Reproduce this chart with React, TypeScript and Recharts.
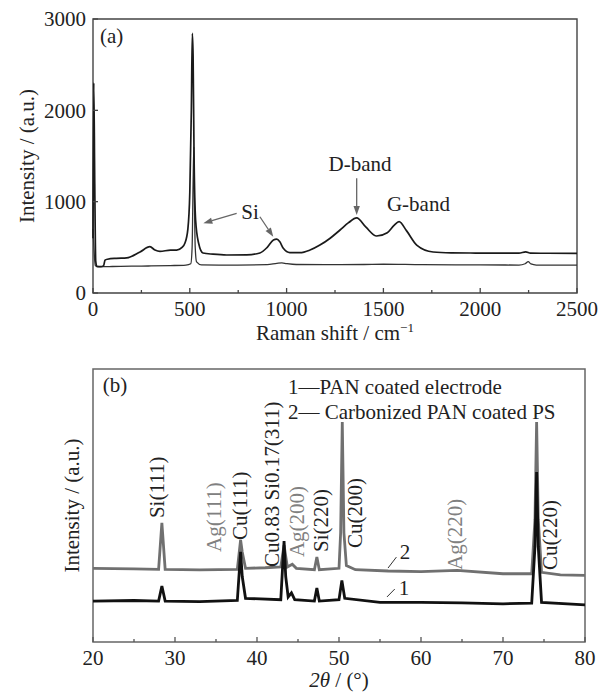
import React from "react";
import {
  LineChart,
  Line,
  XAxis,
  YAxis,
  ReferenceLine,
  ReferenceDot,
  ReferenceArea,
} from "recharts";

const FONT = "'Liberation Serif', 'Times New Roman', serif";
const FS = 21;

// ---- (a) Raman spectra ----
const ramanShiftCoated = [
  0, 4, 9, 14, 20, 40, 55, 62, 75, 120,
  174, 243, 294, 320, 346, 400, 432, 460, 475, 490,
  500, 508, 513, 517, 522, 530, 545, 568, 620, 690,
  794, 862, 900, 932, 949, 965, 983, 1017, 1069, 1121,
  1172, 1225, 1276, 1320, 1362, 1410, 1465, 1520, 1555, 1581,
  1620, 1672, 1757, 1850, 1950, 2100, 2200, 2235, 2260, 2350,
  2500,
];
const ramanIntensityCoated = [
  600, 2300, 1200, 350, 290, 288, 300, 360, 370, 380,
  385, 450, 507, 470, 455, 470, 470, 500, 547, 700,
  1100, 2000, 2843, 2600, 1500, 800, 550, 438, 425, 416,
  418, 438, 500, 580, 590, 560, 489, 442, 441, 470,
  525, 600, 690, 770, 822, 720, 624, 660, 740, 781,
  680, 525, 449, 440, 438, 436, 436, 450, 436, 435,
  434,
];
const ramanShiftBare = [
  0, 5, 12, 20, 50, 100, 200, 300, 400, 480,
  505, 512, 517, 521, 524, 528, 535, 560, 700, 900,
  950, 975, 1000, 1050, 1200, 1400, 1500, 1700, 2000, 2200,
  2232, 2248, 2262, 2290, 2500,
];
const ramanIntensityBare = [
  700, 480, 300, 290, 288, 290, 294, 296, 300, 306,
  320, 500, 1200, 1600, 1000, 500, 340, 308, 306, 310,
  325, 330, 322, 312, 310, 312, 315, 310, 308, 306,
  320, 343, 318, 306, 306,
];
const ramanTicks = [0, 250, 500, 750, 1000, 1250, 1500, 1750, 2000, 2250, 2500];
const ramanMajor = [0, 500, 1000, 1500, 2000, 2500];
const intensityTicks = [0, 1000, 2000, 3000];

// ---- (b) XRD patterns (arbitrary intensity units) ----
const xrdAngle1 = [
  20, 25, 28.0, 28.4, 28.8, 33, 37.6, 38.0, 38.2, 38.6,
  42.9, 43.3, 43.5, 43.8, 44.2, 44.6, 47.0, 47.3, 47.6, 50.0,
  50.35, 50.7, 55, 60, 65, 70, 73.5, 73.9, 74.1, 74.3,
  74.7, 80,
];
const xrdCounts1 = [
  15.0, 15.2, 15.0, 20.5, 15.0, 14.8, 15.2, 33, 24, 16,
  15.5, 37, 24, 16.5, 18, 15.5, 15, 19.8, 15, 15.5,
  22.5, 16, 14.5, 14.5, 14.3, 14, 14.2, 35, 62.3, 35,
  14.5, 13.6,
];
const xrdAngle2 = [
  20, 25, 28.0, 28.4, 28.8, 33, 37.6, 38.0, 38.2, 38.6,
  41, 42.9, 43.3, 43.7, 44.3, 44.8, 47.0, 47.3, 47.6, 50.0,
  50.2, 50.4, 50.6, 50.9, 52, 56, 60, 64.4, 70, 73.5,
  73.9, 74.1, 74.3, 74.7, 77, 80,
];
const xrdCounts2 = [
  27.0, 26.8, 26.6, 43.6, 26.6, 26.4, 26.6, 37.4, 33, 27,
  27.2, 27.5, 35.5, 27.5, 28.5, 27, 26.5, 31.1, 26.5, 27,
  40, 80.6, 40, 28, 26.5, 26, 25.8, 26.2, 25, 25,
  45, 80.6, 45, 25.5, 24.6, 24.4,
];
const angleTicks = [20, 25, 30, 35, 40, 45, 50, 55, 60, 65, 70, 75, 80];
const angleMajor = [20, 30, 40, 50, 60, 70, 80];

const ramanCoated = ramanShiftCoated.map((x, i) => ({ x, y: ramanIntensityCoated[i] }));
const ramanBare = ramanShiftBare.map((x, i) => ({ x, y: ramanIntensityBare[i] }));
const xrd1 = xrdAngle1.map((x, i) => ({ x, y: xrdCounts1[i] }));
const xrd2 = xrdAngle2.map((x, i) => ({ x, y: xrdCounts2[i] }));

// annotations, in data coordinates
const ramanNotes = [
  { text: "(a)", x: 36, y: 2814, anchor: "start" },
  { text: "Si", x: 811, y: 890, anchor: "middle" },
  { text: "D-band", x: 1379, y: 1420, anchor: "middle" },
  { text: "G-band", x: 1681, y: 982, anchor: "middle" },
];
const ramanArrows = [
  { x1: 742, y1: 873, x2: 570, y2: 763 },
  { x1: 862, y1: 835, x2: 931, y2: 616 },
  { x1: 1362, y1: 1256, x2: 1362, y2: 854 },
];
const peakNames = [
  { text: "Si(111)", x: 27.77, y: 45.4, gray: false },
  { text: "Ag(111)", x: 34.76, y: 33.0, gray: true },
  { text: "Cu(111)", x: 37.93, y: 37.4, gray: false },
  { text: "Cu0.83 Si0.17(311)", x: 41.79, y: 27.5, gray: false },
  { text: "Ag(200)", x: 44.88, y: 31.1, gray: true },
  { text: "Si(220)", x: 47.8, y: 33.0, gray: false },
  { text: "Cu(200)", x: 51.95, y: 34.4, gray: false },
  { text: "Ag(220)", x: 64.15, y: 26.4, gray: true },
  { text: "Cu(220)", x: 75.73, y: 26.4, gray: false },
];
const xrdNotes = [
  { text: "(b)", x: 21.2, y: 94.1 },
  { text: "1\u2014PAN coated electrode", x: 43.78, y: 93.4 },
  { text: "2\u2014 Carbonized PAN coated PS", x: 43.78, y: 84.2 },
  { text: "2", x: 57.4, y: 33.0 },
  { text: "1", x: 57.3, y: 19.8 },
];
const xrdLeaders = [
  { x1: 55.98, y1: 27.1, x2: 57.0, y2: 31.1 },
  { x1: 55.85, y1: 16.5, x2: 56.8, y2: 19.4 },
];

function BottomTick(props: any) {
  const { x, y, payload, majors, color } = props;
  const isMajor = majors.includes(payload.value);
  return (
    <g>
      <line x1={x} x2={x} y1={y} y2={y - (isMajor ? 5 : 3)} stroke={color} strokeWidth={1.3} />
      {isMajor && (
        <text x={x} y={y + 23} textAnchor="middle" fontFamily={FONT} fontSize={FS} fill="#222">
          {payload.value}
        </text>
      )}
    </g>
  );
}

function Arrow(p: any) {
  const { x1, y1, x2, y2 } = p;
  const dx = x2 - x1;
  const dy = y2 - y1;
  const len = Math.sqrt(dx * dx + dy * dy) || 1;
  const ux = dx / len;
  const uy = dy / len;
  const hx = x2 - ux * 9;
  const hy = y2 - uy * 9;
  const pts = `${x2},${y2} ${hx - uy * 3.2},${hy + ux * 3.2} ${hx + uy * 3.2},${hy - ux * 3.2}`;
  return (
    <g>
      <line x1={x1} y1={y1} x2={hx} y2={hy} stroke="#666" strokeWidth={1.3} />
      <polygon points={pts} fill="#666" />
    </g>
  );
}

function Leader(p: any) {
  return <line x1={p.x1} y1={p.y1} x2={p.x2} y2={p.y2} stroke="#333" strokeWidth={1} />;
}

const yTitle = (dx: number) => (p: any) => {
  const vb = p.viewBox;
  const cx = vb.x + dx;
  const cy = vb.y + vb.height / 2;
  return (
    <text x={cx} y={cy} transform={`rotate(-90 ${cx} ${cy})`} textAnchor="middle" dominantBaseline="central"
      fontFamily={FONT} fontSize={FS} fill="#222">
      Intensity / (a.u.)
    </text>
  );
};

export default function App() {
  return (
    <div style={{ position: "absolute", left: 0, top: 0, width: 608, height: 696, background: "#fff" }}>
      <div style={{ position: "absolute", left: 0, top: 0 }}>
        <LineChart width={608} height={350} margin={{ top: 19, right: 31, left: 43, bottom: 17 }}>
          <XAxis
            type="number"
            dataKey="x"
            domain={[0, 2500]}
            ticks={ramanTicks}
            interval={0}
            tickSize={0}
            tickMargin={0}
            tickLine={false}
            axisLine={false}
            height={40}
            tick={<BottomTick majors={ramanMajor} color="#444" />}
            label={{
              content: (p: any) => {
                const vb = p.viewBox;
                return (
                  <text x={vb.x + vb.width / 2} y={vb.y + 47} textAnchor="middle" fontFamily={FONT} fontSize={FS} fill="#222">
                    <tspan>Raman shift / cm</tspan>
                    <tspan dy={-8} fontSize={13}>{"\u22121"}</tspan>
                  </text>
                );
              },
            }}
          />
          <YAxis
            type="number"
            domain={[0, 3000]}
            ticks={intensityTicks}
            interval={0}
            width={50}
            tickSize={-5}
            tickMargin={12}
            axisLine={false}
            tickLine={{ stroke: "#444", strokeWidth: 1.3 }}
            tick={{ fontFamily: FONT, fontSize: FS, fill: "#222" }}
            label={{ content: yTitle(-16) }}
          />
          <ReferenceArea x1={0} x2={2500} y1={0} y2={3000} fill="none" stroke="#444" strokeWidth={1.4} />
          <Line data={ramanBare} dataKey="y" type="monotone" stroke="#333" strokeWidth={1.3} dot={false} isAnimationActive={false} />
          <Line data={ramanCoated} dataKey="y" type="monotone" stroke="#1a1a1a" strokeWidth={1.7} dot={false} isAnimationActive={false} />
          {ramanArrows.map((a, i) => (
            <ReferenceLine key={"ra" + i} segment={[{ x: a.x1, y: a.y1 }, { x: a.x2, y: a.y2 }]} ifOverflow="visible" shape={Arrow} />
          ))}
          {ramanNotes.map((n) => (
            <ReferenceDot
              key={n.text}
              x={n.x}
              y={n.y}
              r={0}
              ifOverflow="visible"
              shape={(p: any) => (
                <text x={p.cx} y={p.cy} dy="0.35em" textAnchor={n.anchor} fontFamily={FONT} fontSize={FS} fill="#222">
                  {n.text}
                </text>
              )}
            />
          ))}
        </LineChart>
      </div>
      <div style={{ position: "absolute", left: 0, top: 350 }}>
        <LineChart width={608} height={346} margin={{ top: 19, right: 23, left: 43, bottom: 14 }}>
          <XAxis
            type="number"
            dataKey="x"
            domain={[20, 80]}
            ticks={angleTicks}
            interval={0}
            tickSize={0}
            tickMargin={0}
            tickLine={false}
            axisLine={false}
            height={40}
            tick={<BottomTick majors={angleMajor} color="#555" />}
            label={{
              content: (p: any) => {
                const vb = p.viewBox;
                return (
                  <text x={vb.x + vb.width / 2} y={vb.y + 45} textAnchor="middle" fontFamily={FONT} fontSize={FS} fill="#222">
                    <tspan fontStyle="italic">2θ</tspan>
                    <tspan> / (°)</tspan>
                  </text>
                );
              },
            }}
          />
          <YAxis
            type="number"
            domain={[0, 100]}
            width={50}
            tick={false}
            tickLine={false}
            axisLine={false}
            label={{ content: yTitle(29) }}
          />
          <ReferenceArea x1={20} x2={80} y1={0} y2={100} fill="none" stroke="#666" strokeWidth={1.5} />
          <Line data={xrd2} dataKey="y" type="linear" stroke="#707070" strokeWidth={2.8} dot={false} isAnimationActive={false} />
          <Line data={xrd1} dataKey="y" type="linear" stroke="#111" strokeWidth={2.8} dot={false} isAnimationActive={false} />
          {peakNames.map((n) => (
            <ReferenceDot
              key={n.text}
              x={n.x}
              y={n.y}
              r={0}
              ifOverflow="visible"
              shape={(p: any) => (
                <text
                  x={p.cx}
                  y={p.cy}
                  transform={`rotate(-90 ${p.cx} ${p.cy})`}
                  textAnchor="start"
                  dominantBaseline="central"
                  fontFamily={FONT}
                  fontSize={FS}
                  fill={n.gray ? "#808080" : "#222"}
                >
                  {n.text}
                </text>
              )}
            />
          ))}
          {xrdLeaders.map((a, i) => (
            <ReferenceLine key={"xl" + i} segment={[{ x: a.x1, y: a.y1 }, { x: a.x2, y: a.y2 }]} ifOverflow="visible" shape={Leader} />
          ))}
          {xrdNotes.map((n) => (
            <ReferenceDot
              key={n.text}
              x={n.x}
              y={n.y}
              r={0}
              ifOverflow="visible"
              shape={(p: any) => (
                <text x={p.cx} y={p.cy} dy="0.35em" textAnchor="start" fontFamily={FONT} fontSize={FS} fill="#222">
                  {n.text}
                </text>
              )}
            />
          ))}
        </LineChart>
      </div>
    </div>
  );
}
